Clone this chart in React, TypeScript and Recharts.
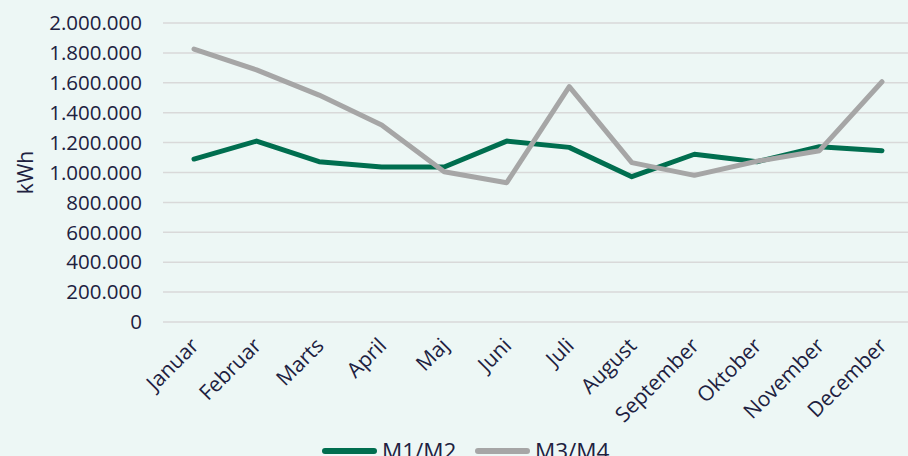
import { LineChart, Line, XAxis, YAxis, CartesianGrid, Legend } from "recharts"

const months = [
  "Januar", "Februar", "Marts", "April", "Maj", "Juni",
  "Juli", "August", "September", "Oktober", "November", "December",
]
const m1m2 = [1090000, 1210000, 1072000, 1037000, 1037000, 1210000, 1168000, 972000, 1122000, 1072000, 1173000, 1146000]
const m3m4 = [1826000, 1686000, 1518000, 1318000, 1005000, 932000, 1574000, 1066000, 981000, 1075000, 1146000, 1607000]
const yTicks = [0, 200000, 400000, 600000, 800000, 1000000, 1200000, 1400000, 1600000, 1800000, 2000000]

const data = months.map((name, i) => ({ name, m1m2: m1m2[i], m3m4: m3m4[i] }))

const GREEN = "#006e4f"
const GREY = "#a6a6a6"
const TEXT = "#20213f"
const FONT = "'Open Sans', sans-serif"

const fmt = (v: number) => String(v).replace(/\B(?=(\d{3})+(?!\d))/g, ".")

function MonthTick(props: any) {
  const { x, y, payload } = props
  const tx = x + 6
  const ty = y + 17
  return (
    <text
      x={tx}
      y={ty}
      transform={`rotate(-45, ${tx}, ${ty})`}
      textAnchor="end"
      fill={TEXT}
      fontSize={21}
      fontFamily={FONT}
    >
      {payload.value}
    </text>
  )
}

function LegendBox() {
  const item = (color: string, label: string) => (
    <div style={{ display: "flex", alignItems: "center", width: 153 }}>
      <span style={{ width: 55, height: 6, borderRadius: 3, background: color, display: "inline-block" }} />
      <span style={{ marginLeft: 5, fontSize: 22.5, color: TEXT, fontFamily: FONT }}>{label}</span>
    </div>
  )
  return (
    <div style={{ display: "flex" }}>
      {item(GREEN, "M1/M2")}
      {item(GREY, "M3/M4")}
    </div>
  )
}

export default function App() {
  return (
    <div style={{ position: "fixed", top: 0, left: 0, width: 908, height: 456, overflow: "hidden", background: "#edf7f5" }}>
      <LineChart width={930} height={470} data={data} margin={{ top: 23, right: 17, left: 0, bottom: 0 }}>
        <CartesianGrid vertical={false} stroke="#d9d9d9" strokeWidth={1.5} />
        <XAxis
          dataKey="name"
          axisLine={false}
          tickLine={false}
          interval={0}
          height={148}
          padding={{ left: 31, right: 31 }}
          tick={<MonthTick />}
        />
        <YAxis
          domain={[0, 2000000]}
          ticks={yTicks}
          width={163}
          axisLine={false}
          tickLine={false}
          tickMargin={15}
          tickFormatter={fmt}
          tick={{ fill: TEXT, fontSize: 20.5, fontFamily: FONT }}
          label={{
            content: (p: any) => {
              const vb = p.viewBox || { y: 23, height: 299 }
              const cy = vb.y + vb.height / 2
              return (
                <text x={25} y={cy} transform={`rotate(-90, 25, ${cy})`} textAnchor="middle" dominantBaseline="central" fill={TEXT} fontSize={21} fontFamily={FONT}>
                  kWh
                </text>
              )
            },
          }}
        />
        <Legend
          layout="horizontal"
          verticalAlign="middle"
          align="center"
          content={<LegendBox />}
          wrapperStyle={{ position: "absolute", top: 435, left: 322, width: "auto" }}
        />
        <Line type="linear" dataKey="m1m2" name="M1/M2" stroke={GREEN} strokeWidth={5} dot={false} strokeLinecap="round" strokeLinejoin="round" isAnimationActive={false} />
        <Line type="linear" dataKey="m3m4" name="M3/M4" stroke={GREY} strokeWidth={5} dot={false} strokeLinecap="round" strokeLinejoin="round" isAnimationActive={false} />
      </LineChart>
    </div>
  )
}
